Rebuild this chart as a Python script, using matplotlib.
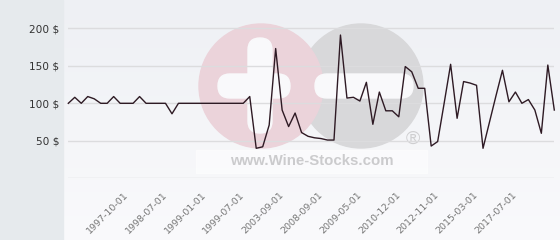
import numpy as np
import matplotlib
matplotlib.use('Agg')
import matplotlib.pyplot as plt
from matplotlib.patches import Circle, FancyBboxPatch, Rectangle

# ---- data ----
values = [100, 108, 100, 109, 106, 100, 100, 109, 100, 100,
          100, 109, 100, 100, 100, 100, 86, 100, 100, 100,
          100, 100, 100, 100, 100, 100, 100, 100, 109, 40,
          42, 71, 173, 91, 69, 87, 61, 56, 54, 53,
          51, 51, 191, 107, 108, 103, 128, 72, 115, 90,
          90, 82, 149, 142, 120, 120, 43, 49, 100, 152,
          80, 129, 127, 124, 40, 75, 110, 144, 102, 115,
          100, 105, 91, 60, 151, 91]
tick_index = [9, 15, 21, 27, 33, 39, 45, 51, 57, 63, 69]
tick_labels = ['1997-10-01', '1998-07-01', '1999-01-01', '1999-07-01',
               '2003-09-01', '2008-09-01', '2009-05-01', '2010-12-01',
               '2012-11-01', '2015-03-01', '2017-07-01']
grid_values = [0, 50, 100, 150, 200]
y_tick_values = [50, 100, 150, 200]
y_tick_labels = ['50 $', '100 $', '150 $', '200 $']

W, H = 560, 240
fig = plt.figure(figsize=(W / 100, H / 100), dpi=100)

# ---- background (pixel coordinates) ----
bg = fig.add_axes([0, 0, 1, 1])
grad = np.linspace(0, 1, 256)[:, None, None]
top = np.array([238, 240, 244]) / 255
bot = np.array([250, 250, 252]) / 255
img = top + (bot - top) * grad
bg.imshow(img, extent=[63, W, H, 0], aspect='auto', zorder=0, interpolation='bilinear')
bg.add_patch(Rectangle((0, 0), 62.5, H, color='#e6eaed', zorder=1))

# watermark
bg.add_patch(Circle((361, 86), 62, color='#d8d8da', zorder=2))
bg.add_patch(Circle((261, 86), 62, color='#ebd3da', zorder=3))
white = '#f9f9fb'
bg.add_patch(FancyBboxPatch((218, 74), 72, 24, boxstyle='round,pad=0,rounding_size=12',
                            color=white, zorder=4))
bg.add_patch(FancyBboxPatch((248, 38), 24, 95, boxstyle='round,pad=0,rounding_size=12',
                            color=white, zorder=4))
bg.add_patch(FancyBboxPatch((315, 74), 98, 24, boxstyle='round,pad=0,rounding_size=12',
                            color=white, zorder=4))
bg.add_patch(Rectangle((196, 150), 231, 23, color='white', alpha=0.55, zorder=5))
bg.text(312, 161, 'www.Wine-Stocks.com', ha='center', va='center',
        fontsize=10.8, fontweight='bold', family='Liberation Sans',
        color='#cbcbcd', zorder=6)
bg.text(412.5, 139.5, '®', ha='center', va='center', fontsize=14,
        family='Liberation Sans', color='#cfcfd1', zorder=6)
bg.set_xlim(0, W)
bg.set_ylim(H, 0)
bg.axis('off')

# ---- main axes ----
y0_px, ytop_px = 178.3, 5.0
px_per_unit = 0.75
ax = fig.add_axes([68.3 / W, (H - y0_px) / H, 486 / W, (y0_px - ytop_px) / H])
ax.patch.set_alpha(0)
x = np.arange(len(values))
for g in grid_values:
    ax.axhline(g, color='#dcdcde', lw=1.0, zorder=1)
ax.plot(x, values, color='#2e1a24', lw=1.0, zorder=3, clip_on=False)
ax.set_xlim(0, len(values) - 1)
ax.set_ylim(0, (y0_px - ytop_px) / px_per_unit)

ax.set_yticks(y_tick_values)
ax.set_yticklabels(y_tick_labels, fontsize=7.6, color='#333333', family='DejaVu Sans')
ax.set_xticks(tick_index)
ax.set_xticklabels(tick_labels, rotation=45, ha='right', va='center',
                   rotation_mode='anchor', fontsize=6.8, color='#777777',
                   family='DejaVu Sans')
ax.tick_params(axis='y', length=0, pad=6.5)
ax.tick_params(axis='x', length=0, pad=11)
for s in ax.spines.values():
    s.set_visible(False)

fig.savefig('out.png', dpi=100)
